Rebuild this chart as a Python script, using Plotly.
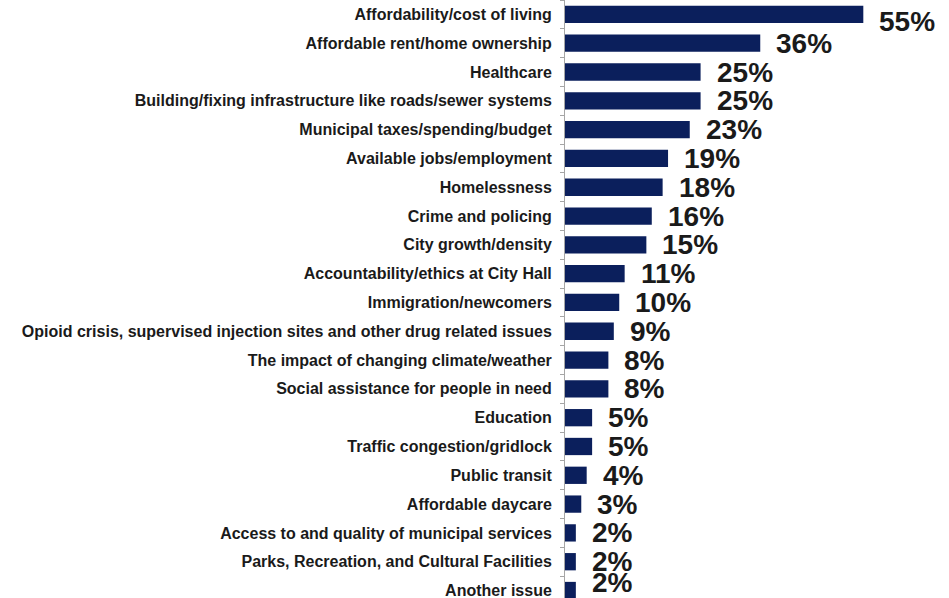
import plotly.graph_objects as go

categories = [
    "Affordability/cost of living",
    "Affordable rent/home ownership",
    "Healthcare",
    "Building/fixing infrastructure like roads/sewer systems",
    "Municipal taxes/spending/budget",
    "Available jobs/employment",
    "Homelessness",
    "Crime and policing",
    "City growth/density",
    "Accountability/ethics at City Hall",
    "Immigration/newcomers",
    "Opioid crisis, supervised injection sites and other drug related issues",
    "The impact of changing climate/weather",
    "Social assistance for people in need",
    "Education",
    "Traffic congestion/gridlock",
    "Public transit",
    "Affordable daycare",
    "Access to and quality of municipal services",
    "Parks, Recreation, and Cultural Facilities",
    "Another issue",
]
values = [55, 36, 25, 25, 23, 19, 18, 16, 15, 11, 10, 9, 8, 8, 5, 5, 4, 3, 2, 2, 2]
value_labels = [f"{v}%" for v in values]

fig = go.Figure(go.Bar(
    x=values, y=categories, orientation="h",
    marker=dict(color="#0b1f5c", line=dict(width=0)),
    width=0.6,
    hoverinfo="skip",
))

n = len(categories)
for i, (c, v, t) in enumerate(zip(categories, values, value_labels)):
    ys = 0
    if i == 0:
        ys = -7
    elif i == n - 1:
        ys = 8
    fig.add_annotation(
        x=v, y=c, text=t, showarrow=False, xanchor="left", yanchor="middle",
        xshift=14, yshift=ys,
        font=dict(family="Liberation Sans, Arial, sans-serif", size=28, color="#1a1a1a", weight="bold"),
    )

fig.update_layout(
    width=949, height=598,
    margin=dict(l=565, r=0, t=0, b=0, pad=0),
    paper_bgcolor="white", plot_bgcolor="white",
    showlegend=False,
    font=dict(family="Liberation Sans, Arial, sans-serif", color="#1a1a1a"),
    xaxis=dict(range=[0, 70.8], visible=False, fixedrange=True),
    yaxis=dict(
        range=[20.26, -0.5], type="category",
        showline=True, linecolor="#a6a6a6", linewidth=1,
        ticks="outside", tickson="boundaries", ticklen=4, tickcolor="#a6a6a6",
        showgrid=False, zeroline=False,
        tickfont=dict(size=16, color="#1a1a1a", weight="bold"),
        ticklabelstandoff=9,
    ),
)

fig.write_html(
    "out.html",
    config={"displayModeBar": False, "staticPlot": True},
    post_script="document.body.style.margin='0px';document.body.style.padding='0px';",
)
